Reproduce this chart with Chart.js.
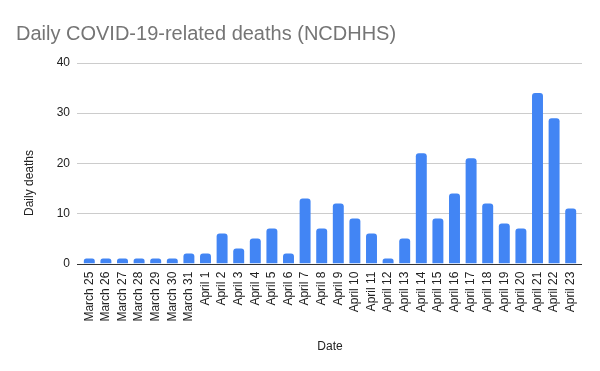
<!DOCTYPE html>
<html>
<head>
<meta charset="utf-8">
<script src="https://cdn.jsdelivr.net/npm/chart.js@4"></script>
<style>
  html, body { margin: 0; padding: 0; background: #fff; }
  #wrap { width: 600px; height: 371px; position: relative; }
</style>
</head>
<body>
<div id="wrap"><canvas id="deathsChart"></canvas></div>
<script>
const dates = [
  'March 25','March 26','March 27','March 28','March 29','March 30','March 31',
  'April 1','April 2','April 3','April 4','April 5','April 6','April 7','April 8',
  'April 9','April 10','April 11','April 12','April 13','April 14','April 15',
  'April 16','April 17','April 18','April 19','April 20','April 21','April 22','April 23'
];
const dailyDeaths = [1,1,1,1,1,1,2, 2,6,3,5,7,2,13,7, 12,9,6,1,5,22,9, 14,21,12,8,7,34,29,11];
const yTicks = [0, 10, 20, 30, 40];

const font = 'Arial, "Liberation Sans", sans-serif';

// y axis title is drawn by hand: the reference centres it lower than the plot area
const yTitle = {
  id: 'yTitle',
  afterDraw(chart) {
    const c = chart.ctx;
    c.save();
    c.translate(30, 183);
    c.rotate(-Math.PI / 2);
    c.fillStyle = '#222';
    c.font = '12px ' + font;
    c.textAlign = 'center';
    c.textBaseline = 'middle';
    c.fillText('Daily deaths', 0, 0);
    c.restore();
  }
};

// gridlines run a few px past the bars on each side, like the Sheets chart
const wideGrid = {
  id: 'wideGrid',
  beforeDatasetsDraw(chart) {
    const c = chart.ctx;
    const y = chart.scales.y;
    const { left, right } = chart.chartArea;
    c.save();
    c.lineWidth = 1;
    yTicks.forEach(v => {
      const py = Math.round(y.getPixelForValue(v)) + 0.5;
      c.strokeStyle = v === 0 ? '#333' : '#cccccc';
      c.beginPath();
      c.moveTo(left - 4, py);
      c.lineTo(right + 3, py);
      c.stroke();
    });
    c.restore();
  }
};

new Chart(document.getElementById('deathsChart'), {
  type: 'bar',
  data: {
    labels: dates,
    datasets: [{
      label: 'Daily deaths',
      data: dailyDeaths,
      backgroundColor: '#4285f4',
      borderRadius: { topLeft: 3, topRight: 3 },
      borderSkipped: 'bottom',
      categoryPercentage: 1,
      barPercentage: 0.66,
    }]
  },
  plugins: [wideGrid, yTitle],
  options: {
    responsive: true,
    maintainAspectRatio: false,
    animation: false,
    layout: { padding: { left: 16, right: 21, top: 22, bottom: 13 } },
    plugins: {
      legend: { display: false },
      tooltip: { enabled: false },
      title: {
        display: true,
        text: 'Daily COVID-19-related deaths (NCDHHS)',
        align: 'start',
        color: '#757575',
        font: { family: font, size: 20, weight: 'normal' },
        padding: { top: 0, bottom: 17 }
      }
    },
    scales: {
      x: {
        grid: { display: false },
        border: { display: false },
        ticks: {
          color: '#222',
          font: { family: font, size: 12 },
          minRotation: 90,
          maxRotation: 90,
          autoSkip: false,
          padding: 0
        },
        title: {
          display: true,
          text: 'Date',
          color: '#222',
          font: { family: font, size: 12 },
          padding: { top: 18 }
        }
      },
      y: {
        min: 0,
        max: 40,
        afterBuildTicks: axis => { axis.ticks = yTicks.map(v => ({ value: v })); },
        afterFit: axis => { axis.width = 65; },
        grid: { display: false, drawTicks: false },
        border: { display: false },
        ticks: {
          color: '#222',
          font: { family: font, size: 12 },
          padding: 11
        }
      }
    }
  }
});
</script>
</body>
</html>
